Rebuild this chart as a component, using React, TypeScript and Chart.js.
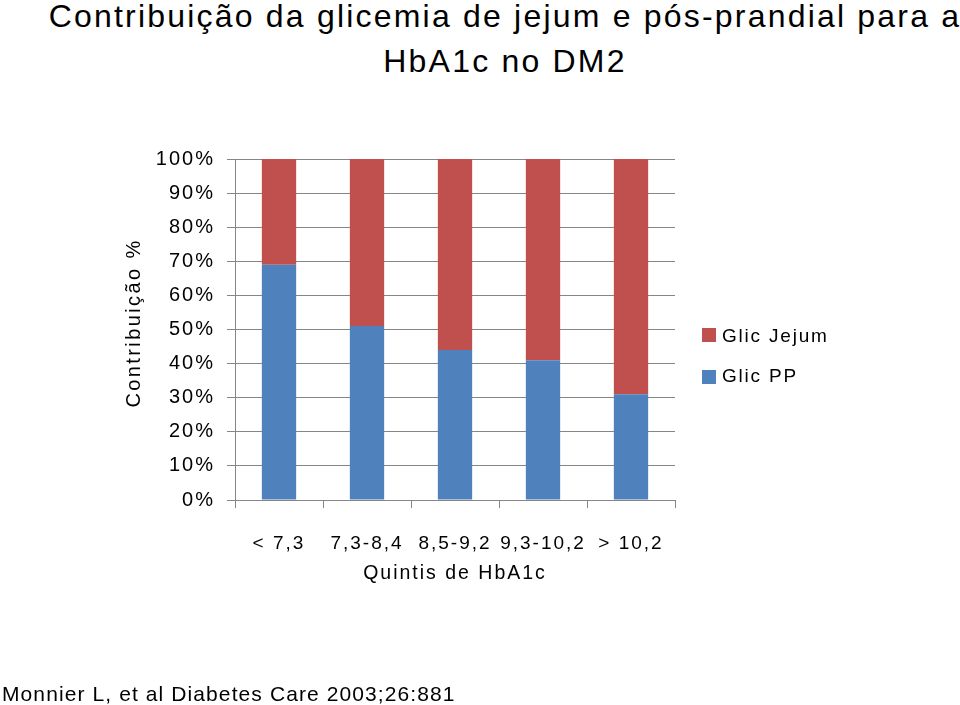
import React, { useEffect, useRef } from "react";
import { Chart, registerables } from "chart.js";

Chart.register(...registerables);

const categories = ["< 7,3", "7,3-8,4", "8,5-9,2", "9,3-10,2", "> 10,2"];
const glicPP = [69, 51, 44, 41, 31];
const glicJejum = [31, 49, 56, 59, 69];
const yTicks = [0, 10, 20, 30, 40, 50, 60, 70, 80, 90, 100];
const yTitle = "Contribuição %";
const xTitle = "Quintis de HbA1c";

const RED = "#C0504D";
const BLUE = "#4F81BD";
const GRID = "#868686";
const FONT = "'Liberation Sans', Arial, Helvetica, sans-serif";

const spacingPlugin = {
  id: "letterSpacing",
  beforeUpdate(chart: any) {
    chart.ctx.letterSpacing = "2px";
  },
  beforeDraw(chart: any) {
    chart.ctx.letterSpacing = "2px";
  },
  afterDraw(chart: any) {
    const ctx = chart.ctx;
    ctx.save();
    ctx.letterSpacing = "2.4px";
    ctx.fillStyle = "#000";
    ctx.font = `20px ${FONT}`;
    ctx.textAlign = "center";
    ctx.textBaseline = "middle";
    ctx.translate(134, 323);
    ctx.rotate(-Math.PI / 2);
    ctx.fillText(yTitle, 0, 0);
    ctx.restore();
  },
};

export default function App() {
  const ref = useRef<HTMLCanvasElement | null>(null);

  useEffect(() => {
    if (!ref.current) return;
    const chart = new Chart(ref.current, {
      type: "bar",
      data: {
        labels: categories,
        datasets: [
          {
            label: "Glic PP",
            data: glicPP,
            backgroundColor: BLUE,
            barPercentage: 0.39,
            categoryPercentage: 1,
          },
          {
            label: "Glic Jejum",
            data: glicJejum,
            backgroundColor: RED,
            barPercentage: 0.39,
            categoryPercentage: 1,
          },
        ],
      },
      plugins: [spacingPlugin],
      options: {
        responsive: false,
        animation: false,
        devicePixelRatio: 1,
        layout: { padding: { left: 122, right: 285, top: 159, bottom: 120 } },
        plugins: {
          legend: { display: false },
          tooltip: { enabled: false },
          title: { display: false },
        },
        scales: {
          x: {
            stacked: true,
            afterFit: (s: any) => {
              s.height = 85;
            },
            grid: {
              drawOnChartArea: false,
              drawTicks: true,
              tickLength: 8,
              color: GRID,
            },
            border: { display: true, color: GRID },
            ticks: {
              color: "#000",
              font: { family: FONT, size: 19 },
              padding: 24,
              maxRotation: 0,
              autoSkip: false,
            },
            title: {
              display: true,
              text: xTitle,
              color: "#000",
              font: { family: FONT, size: 19.5 },
              padding: { top: 0, bottom: 0 },
            },
          },
          y: {
            stacked: true,
            min: 0,
            max: 100,
            afterFit: (s: any) => {
              s.width = 113;
            },
            afterBuildTicks: (s: any) => {
              s.ticks = yTicks.map((v) => ({ value: v }));
            },
            grid: {
              drawOnChartArea: true,
              drawTicks: true,
              tickLength: 8,
              color: GRID,
            },
            border: { display: true, color: GRID },
            ticks: {
              color: "#000",
              font: { family: FONT, size: 20 },
              padding: 12,
              callback: (v: any) => v + "%",
            },
            title: { display: false },
          },
        },
      },
    } as any);
    return () => chart.destroy();
  }, []);

  const legendItems = [
    { label: "Glic Jejum", color: RED, top: 325, sq: 328 },
    { label: "Glic PP", color: BLUE, top: 365, sq: 370 },
  ];

  return (
    <div
      style={{
        position: "absolute",
        left: 0,
        top: 0,
        width: 960,
        height: 705,
        overflow: "hidden",
        background: "#fff",
        fontFamily: FONT,
        color: "#000",
      }}
    >
      <div
        style={{
          position: "absolute",
          left: 0,
          top: -6,
          width: 1010,
          textAlign: "center",
          fontSize: 32,
          lineHeight: "45px",
          letterSpacing: "2.2px",
          whiteSpace: "nowrap",
        }}
      >
        <div>Contribuição da glicemia de jejum e pós-prandial para a</div>
        <div>HbA1c no DM2</div>
      </div>
      <canvas
        ref={ref}
        width={960}
        height={705}
        style={{ position: "absolute", left: 0, top: 0, width: 960, height: 705 }}
      />
      {legendItems.map((it) => (
        <React.Fragment key={it.label}>
          <div
            style={{
              position: "absolute",
              left: 702,
              top: it.sq,
              width: 14,
              height: 14,
              background: it.color,
            }}
          />
          <div
            style={{
              position: "absolute",
              left: 722,
              top: it.top,
              fontSize: 19,
              lineHeight: "22px",
              letterSpacing: "1.8px",
              whiteSpace: "nowrap",
            }}
          >
            {it.label}
          </div>
        </React.Fragment>
      ))}
      <div
        style={{
          position: "absolute",
          left: 2,
          top: 682,
          fontSize: 21,
          lineHeight: "24px",
          letterSpacing: "1.1px",
          whiteSpace: "nowrap",
        }}
      >
        Monnier L, et al Diabetes Care 2003;26:881
      </div>
    </div>
  );
}
